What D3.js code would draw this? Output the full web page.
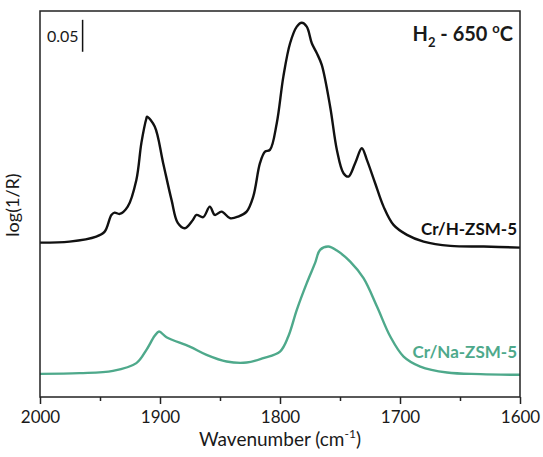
<!DOCTYPE html>
<html>
<head>
<meta charset="utf-8">
<script src="https://cdn.jsdelivr.net/npm/d3@7"></script>
<style>
  body { margin: 0; background: #fff; }
  svg text { font-family: Lato, "Open Sans", sans-serif; fill: #1a1a1a; }
</style>
</head>
<body>
<svg id="chart" width="543" height="457"></svg>
<script>
// wavenumbers (cm-1) and log(1/R)
const hzsmWave = [2000, 1975.4, 1953.1, 1946.1, 1940.5, 1937.8, 1933.6, 1926.9, 1919.7, 1915.5,
    1911.3, 1910.8, 1904.4, 1897.4, 1890.4, 1885.2, 1879.3, 1872.6, 1869.6, 1864.0,
    1858.5, 1854.3, 1848.7, 1841.7, 1834.8, 1827.8, 1822.3, 1816.7, 1812.5, 1808.4,
    1802.7, 1797.2, 1791.6, 1786.0, 1781.9, 1777.7, 1773.5, 1769.3, 1765.2, 1758.2,
    1752.6, 1747.1, 1742.9, 1737.4, 1731.8, 1727.6, 1720.7, 1713.7, 1705.4, 1694.2,
    1680.3, 1658.0, 1630.2, 1600];
const hzsmAbs = [0.2476, 0.2492, 0.2570, 0.2648, 0.2909, 0.2945, 0.2925, 0.3039, 0.3457, 0.4036,
    0.4422, 0.4447, 0.4291, 0.3723, 0.3144, 0.2784, 0.2701, 0.2831, 0.2909, 0.2873,
    0.3039, 0.2909, 0.2961, 0.2858, 0.2883, 0.2961, 0.3196, 0.3718, 0.3900, 0.3926,
    0.4344, 0.5073, 0.5595, 0.5855, 0.5917, 0.5855, 0.5595, 0.5439, 0.5256, 0.4603,
    0.3926, 0.3562, 0.3509, 0.3718, 0.3953, 0.3770, 0.3405, 0.3039, 0.2753, 0.2597,
    0.2492, 0.2425, 0.2414, 0.2398];

const nazsmWave = [2000, 1967.0, 1939.2, 1919.7, 1911.3, 1904.4, 1900.8, 1894.6, 1875.2, 1861.2,
    1844.5, 1827.8, 1813.9, 1800.0, 1793.1, 1786.0, 1777.7, 1770.8, 1766.6, 1759.7,
    1752.6, 1741.5, 1730.4, 1719.2, 1708.1, 1697.0, 1683.1, 1660.8, 1632.9, 1600];
const nazsmAbs = [0.0422, 0.0433, 0.0469, 0.0590, 0.0798, 0.1017, 0.1084, 0.0996, 0.0849, 0.0720,
    0.0615, 0.0599, 0.0668, 0.0771, 0.1006, 0.1423, 0.1841, 0.2154, 0.2362, 0.2414,
    0.2351, 0.2179, 0.1919, 0.1475, 0.1006, 0.0693, 0.0537, 0.0443, 0.0418, 0.0407];

const xTicks = [2000, 1900, 1800, 1700, 1600];
const xMinorTicks = [1950, 1850, 1750, 1650];

const series = [
    {name: "Cr/H-ZSM-5", wave: hzsmWave, abs: hzsmAbs, color: "#111111"},
    {name: "Cr/Na-ZSM-5", wave: nazsmWave, abs: nazsmAbs, color: "#4ea98b"}
];

let svg = d3.select("#chart");
const margin = {top: 11, right: 23, bottom: 60, left: 40};
const width = 543 - margin.left - margin.right;
const height = 457 - margin.top - margin.bottom;

let g = svg.append("g")
    .attr("transform", "translate(" + margin.left + "," + margin.top + ")");

let x = d3.scaleLinear().domain([2000, 1600]).range([0, width]);
let y = d3.scaleLinear().domain([0.006, 0.61]).range([height, 0]);

let line = d3.line()
    .x(function(d) { return x(d[0]); })
    .y(function(d) { return y(d[1]); })
    .curve(d3.curveCatmullRom.alpha(0.5));

for (let s of series) {
    let pts = s.wave.map(function(w, i) { return [w, s.abs[i]]; });
    g.append("path")
        .datum(pts)
        .attr("fill", "none")
        .attr("stroke", s.color)
        .attr("stroke-width", 2.4)
        .attr("stroke-linejoin", "round")
        .attr("d", line);
}

// frame
g.append("rect")
    .attr("width", width)
    .attr("height", height)
    .attr("fill", "none")
    .attr("stroke", "#222")
    .attr("stroke-width", 1.5);

// bottom axis
let xAxis = g.append("g")
    .attr("transform", "translate(0," + height + ")")
    .call(d3.axisBottom(x).tickValues(xTicks).tickSize(7).tickFormat(d3.format("d")));
xAxis.select(".domain").remove();
xAxis.selectAll("line").attr("stroke", "#222").attr("stroke-width", 1.5);
xAxis.selectAll("text")
    .attr("dy", 0)
    .attr("y", 26)
    .style("font-size", "17px")
    .style("fill", "#1a1a1a");

g.append("g")
    .attr("transform", "translate(0," + height + ")")
    .call(d3.axisBottom(x).tickValues(xMinorTicks).tickSize(4).tickFormat(""))
    .call(function(a) { a.select(".domain").remove(); })
    .selectAll("line").attr("stroke", "#222").attr("stroke-width", 1.5);

// axis titles
let xTitle = svg.append("text")
    .attr("x", margin.left + width / 2)
    .attr("y", 446)
    .attr("text-anchor", "middle")
    .style("font-size", "19px");
xTitle.append("tspan").text("Wavenumber (cm");
xTitle.append("tspan").attr("dy", -8).style("font-size", "12px").text("-1");
xTitle.append("tspan").attr("dy", 8).text(")");

svg.append("text")
    .attr("transform", "translate(19,205) rotate(-90)")
    .attr("text-anchor", "middle")
    .style("font-size", "18px")
    .text("log(1/R)");

// scale bar
g.append("line")
    .attr("x1", x(1964.5)).attr("x2", x(1964.5))
    .attr("y1", y(0.5962)).attr("y2", y(0.5462))
    .attr("stroke", "#111")
    .attr("stroke-width", 1.5);
g.append("text")
    .attr("x", x(1964.5) - 4)
    .attr("y", 31)
    .attr("text-anchor", "end")
    .style("font-size", "16px")
    .text("0.05");

// condition label
let title = svg.append("text")
    .attr("x", 513)
    .attr("y", 41)
    .attr("text-anchor", "end")
    .style("font-size", "20px")
    .style("font-weight", "bold");
title.append("tspan").text("H");
title.append("tspan").attr("dy", 6).style("font-size", "13px").text("2");
title.append("tspan").attr("dy", -6).text(" - 650 ");
title.append("tspan").attr("dy", -8).style("font-size", "13px").text("o");
title.append("tspan").attr("dy", 8).text("C");

// series labels
const labelY = [235, 358];
series.forEach(function(s, i) {
    svg.append("text")
        .attr("x", 517)
        .attr("y", labelY[i])
        .attr("text-anchor", "end")
        .style("font-size", "17px")
        .style("font-weight", "bold")
        .style("fill", s.color)
        .text(s.name);
});
</script>
</body>
</html>
